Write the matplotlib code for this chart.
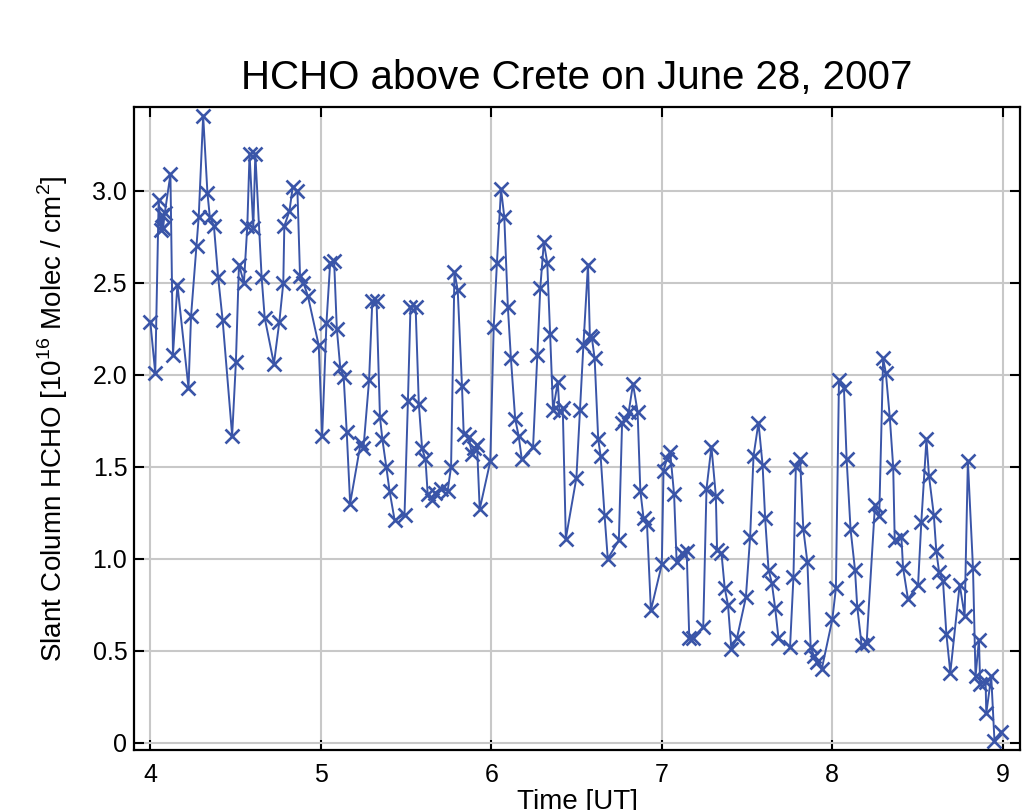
import matplotlib
matplotlib.use("Agg")
import matplotlib.pyplot as plt

# time in hours UT, slant column in 1e16 molec/cm2
time_ut = [4.000, 4.029, 4.049, 4.061, 4.068, 4.075, 4.085, 4.118, 4.133, 4.159,
           4.224, 4.239, 4.271, 4.284, 4.310, 4.335, 4.349, 4.373, 4.398, 4.424,
           4.480, 4.502, 4.520, 4.549, 4.569, 4.582, 4.604, 4.616, 4.653, 4.671,
           4.725, 4.757, 4.780, 4.786, 4.816, 4.835, 4.863, 4.878, 4.898, 4.924,
           4.988, 5.008, 5.033, 5.055, 5.078, 5.094, 5.114, 5.134, 5.152, 5.172,
           5.234, 5.250, 5.283, 5.302, 5.327, 5.347, 5.361, 5.384, 5.403, 5.433,
           5.491, 5.511, 5.526, 5.556, 5.575, 5.594, 5.614, 5.627, 5.653, 5.672,
           5.705, 5.744, 5.764, 5.784, 5.803, 5.828, 5.838, 5.867, 5.887, 5.900,
           5.916, 5.932, 5.994, 6.014, 6.033, 6.057, 6.076, 6.097, 6.115, 6.140,
           6.160, 6.179, 6.245, 6.270, 6.287, 6.308, 6.328, 6.345, 6.362, 6.390,
           6.400, 6.419, 6.437, 6.499, 6.520, 6.540, 6.567, 6.578, 6.590, 6.606,
           6.627, 6.641, 6.664, 6.683, 6.748, 6.767, 6.786, 6.806, 6.831, 6.858,
           6.874, 6.893, 6.913, 6.936, 7.000, 7.010, 7.029, 7.049, 7.072, 7.087,
           7.117, 7.146, 7.161, 7.184, 7.243, 7.262, 7.291, 7.317, 7.324, 7.350,
           7.369, 7.388, 7.408, 7.441, 7.493, 7.518, 7.538, 7.567, 7.591, 7.606,
           7.626, 7.645, 7.665, 7.684, 7.752, 7.772, 7.786, 7.811, 7.830, 7.854,
           7.873, 7.893, 7.912, 7.938, 8.000, 8.021, 8.039, 8.068, 8.084, 8.107,
           8.133, 8.146, 8.172, 8.201, 8.250, 8.275, 8.298, 8.314, 8.337, 8.357,
           8.366, 8.405, 8.415, 8.444, 8.503, 8.522, 8.552, 8.567, 8.595, 8.610,
           8.626, 8.649, 8.669, 8.692, 8.747, 8.776, 8.795, 8.825, 8.840, 8.860,
           8.867, 8.899, 8.903, 8.932, 8.951, 8.990]

hcho = [2.29, 2.01, 2.95, 2.79, 2.87, 2.80, 2.88, 3.09, 2.11, 2.49,
        1.93, 2.32, 2.70, 2.86, 3.41, 2.99, 2.86, 2.81, 2.53, 2.30,
        1.67, 2.07, 2.60, 2.50, 2.81, 3.20, 2.80, 3.20, 2.53, 2.31,
        2.06, 2.29, 2.50, 2.81, 2.89, 3.02, 3.00, 2.54, 2.50, 2.43,
        2.16, 1.67, 2.28, 2.61, 2.62, 2.25, 2.04, 1.99, 1.69, 1.30,
        1.63, 1.60, 1.97, 2.40, 2.40, 1.77, 1.65, 1.50, 1.37, 1.21,
        1.24, 1.86, 2.37, 2.37, 1.84, 1.60, 1.54, 1.35, 1.32, 1.36,
        1.38, 1.37, 1.50, 2.56, 2.46, 1.94, 1.68, 1.66, 1.57, 1.60,
        1.62, 1.27, 1.53, 2.26, 2.61, 3.01, 2.86, 2.37, 2.09, 1.76,
        1.67, 1.54, 1.61, 2.11, 2.47, 2.72, 2.61, 2.22, 1.81, 1.96,
        1.80, 1.82, 1.11, 1.44, 1.81, 2.16, 2.60, 2.21, 2.20, 2.09,
        1.65, 1.56, 1.24, 1.00, 1.10, 1.74, 1.76, 1.80, 1.95, 1.80,
        1.37, 1.22, 1.19, 0.72, 0.97, 1.48, 1.54, 1.58, 1.35, 0.98,
        1.03, 1.04, 0.57, 0.57, 0.63, 1.38, 1.61, 1.34, 1.05, 1.03,
        0.84, 0.75, 0.51, 0.57, 0.79, 1.12, 1.56, 1.74, 1.51, 1.22,
        0.94, 0.87, 0.73, 0.57, 0.52, 0.90, 1.50, 1.54, 1.16, 0.98,
        0.52, 0.47, 0.44, 0.40, 0.67, 0.84, 1.97, 1.93, 1.54, 1.16,
        0.94, 0.74, 0.53, 0.54, 1.29, 1.23, 2.09, 2.01, 1.77, 1.50,
        1.10, 1.12, 0.95, 0.78, 0.86, 1.20, 1.65, 1.45, 1.24, 1.04,
        0.93, 0.88, 0.59, 0.38, 0.86, 0.69, 1.53, 0.95, 0.36, 0.56,
        0.32, 0.33, 0.16, 0.36, 0.01, 0.06]

x_ticks = [4, 5, 6, 7, 8, 9]
y_ticks = [0, 0.5, 1.0, 1.5, 2.0, 2.5, 3.0]
y_tick_labels = ["0", "0.5", "1.0", "1.5", "2.0", "2.5", "3.0"]

plt.rcParams["font.family"] = ["Liberation Sans", "DejaVu Sans"]
plt.rcParams["mathtext.fontset"] = "custom"
plt.rcParams["mathtext.rm"] = "Liberation Sans"

fig = plt.figure(figsize=(10.25, 8.10), dpi=100)
ax = fig.add_axes([0.131, 0.074, 0.864, 0.794])

ax.plot(time_ut, hcho, color="#3a55a8", lw=1.4, marker="x", ms=10, mew=1.9)

ax.set_xlim(3.906, 9.1)
ax.set_ylim(-0.04, 3.457)
ax.set_xticks(x_ticks)
ax.set_yticks(y_ticks)
ax.set_yticklabels(y_tick_labels)
ax.grid(True, color="#c8c8c8", lw=1.5)
ax.set_axisbelow(True)
ax.tick_params(direction="in", length=7, width=1.5, top=True, right=True,
               labelsize=18)
ax.tick_params(axis="y", pad=5)
ax.tick_params(axis="x", pad=9)
for s in ax.spines.values():
    s.set_linewidth(1.6)

ax.set_title("HCHO above Crete on June 28, 2007", fontsize=29, pad=13)
ax.set_xlabel("Time [UT]", fontsize=20, labelpad=2)
ax.set_ylabel(r"Slant Column HCHO [10$^{16}$ Molec / cm$^2$]", fontsize=20)
ax.yaxis.set_label_coords(-0.073, 0.515)

fig.savefig("out.png", dpi=100)
